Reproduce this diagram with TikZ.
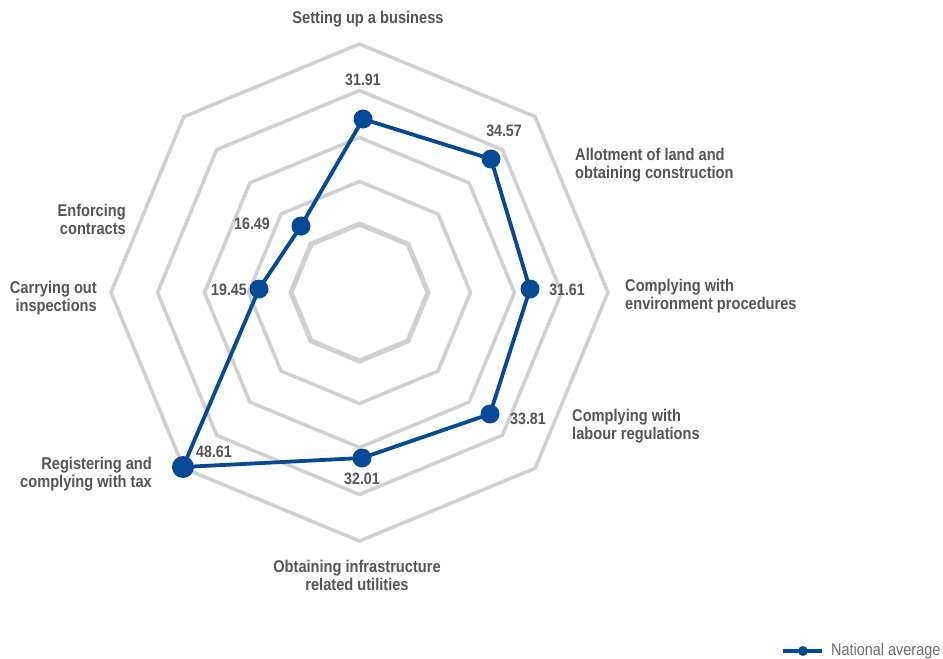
\documentclass[tikz,border=0pt]{standalone}
\usepackage{fontspec}
\newfontfamily\labfont{Liberation Sans}[FakeStretch=0.86]
\definecolor{gridgray}{RGB}{208,208,208}
\definecolor{datablue}{RGB}{6,74,150}
\definecolor{txt}{RGB}{85,85,85}
\definecolor{legtxt}{RGB}{110,110,110}
\tikzset{
  gridline/.style={draw=gridgray, line join=miter},
  dataline/.style={draw=datablue, line width=3.8pt, line join=round},
  dot/.style={circle, fill=datablue, minimum size=19pt, inner sep=0pt},
  lab/.style={font=\labfont\bfseries\fontsize{17}{18}\selectfont, text=txt, inner sep=0pt},
  val/.style={font=\labfont\bfseries\fontsize{16.5}{18}\selectfont, text=txt, inner sep=0pt},
  legend/.style={font=\labfont\fontsize{16.8}{18}\selectfont, text=legtxt, inner sep=0pt, anchor=west}
}
\begin{document}
\begin{tikzpicture}[x=1pt, y=-1pt]
\useasboundingbox (0,0) rectangle (943,659);
% grid
\begin{scope}[shift={(359.5,292.5)}]
\foreach \r/\w in {68.5/5, 111/3.5, 155/3.5, 202/3.5, 248.5/3.5}
  \draw[gridline, line width=\w pt] (90:\r) -- (45:\r) -- (0:\r) -- (-45:\r) -- (-90:\r) -- (-135:\r) -- (180:\r) -- (135:\r) -- cycle;
\end{scope}
% data points
\coordinate (p1) at (363,119);
\coordinate (p2) at (491,159);
\coordinate (p3) at (530,289);
\coordinate (p4) at (490,414);
\coordinate (p5) at (362,458);
\coordinate (p6) at (183,467);
\coordinate (p7) at (259,289);
\coordinate (p8) at (301,226);
\draw[dataline] (p1) -- (p2) -- (p3) -- (p4) -- (p5) -- (p6) -- (p7) -- (p8) -- cycle;
\foreach \p in {p1,p2,p3,p4,p5,p7,p8}
  \node[dot] (d\p) at (\p) {};
\node[dot, minimum size=22pt] (dp6) at (p6) {};
% values
\node[val] (v1) at (363,80) {31.91};
\node[val] (v2) at (504,131) {34.57};
\node[val] (v3) at (567,290) {31.61};
\node[val] (v4) at (528,419) {33.81};
\node[val] (v5) at (362,479) {32.01};
\node[val] (v6) at (214,452) {48.61};
\node[val] (v7) at (229,290) {19.45};
\node[val] (v8) at (252,224) {16.49};
% category labels
\node[lab] (c1) at (368,19) {Setting up a business};
\node[lab, align=left, anchor=west] (c2) at (575,165) {Allotment of land and\\obtaining construction};
\node[lab, align=left, anchor=west] (c3) at (625,296) {Complying with\\environment procedures};
\node[lab, align=left, anchor=west] (c4) at (572,426) {Complying with\\labour regulations};
\node[lab, align=center] (c5) at (357,575) {Obtaining infrastructure\\related utilities};
\node[lab, align=right, anchor=east] (c6) at (152,474) {Registering and\\complying with tax};
\node[lab, align=right, anchor=east] (c7) at (97,298) {Carrying out\\inspections};
\node[lab, align=right, anchor=east] (c8) at (126,219) {Enforcing\\contracts};
% legend
\coordinate (l1) at (783,651);
\coordinate (l2) at (822,651);
\draw[draw=datablue, line width=3.5pt] (l1) -- (l2);
\node[circle, fill=datablue, minimum size=10pt, inner sep=0pt] (ld) at (803,651) {};
\node[legend] (lt) at (831,651) {National average};
\end{tikzpicture}
\end{document}
